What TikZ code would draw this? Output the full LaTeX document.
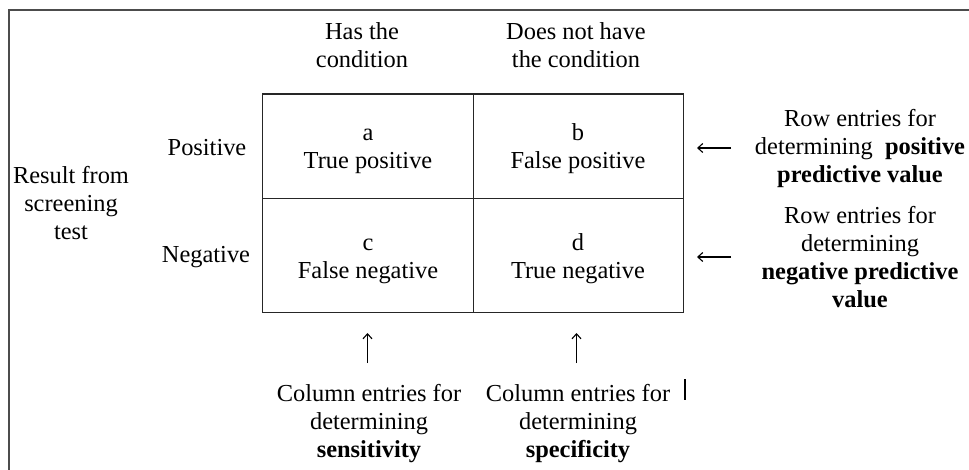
\documentclass[tikz,border=0pt]{standalone}
\usepackage{fontspec}
\setmainfont{Liberation Serif}
\usetikzlibrary{arrows.meta}
\begin{document}
\begin{tikzpicture}[x=1pt,y=-1pt,
  lbl/.style={align=center,inner sep=0pt,font=\fontsize{24.4}{28}\selectfont},
  celltext/.style={lbl},
  cell/.style={draw=black!85,line width=1.3pt,minimum width=210.5pt,inner sep=0pt},
  frameline/.style={line width=1.8pt,draw=black!70},
  ptr/.style={line width=1.1pt,-{Straight Barb[length=5pt,width=9pt]}}]
\useasboundingbox (0,0) rectangle (969,470);
% outer frame (top and left only)
\coordinate (ftr) at (969,10);
\coordinate (ftl) at (9,10);
\coordinate (fbl) at (9,470);
\draw[frameline] (ftr) -- (ftl) -- (fbl);
% headers
\node[lbl] (h1) at (362,45) {Has the\\condition};
\node[lbl] (h2) at (576,45) {Does not have\\the condition};
\node[lbl] (pos) at (207,148) {Positive};
\node[lbl] (neg) at (206,257) {Negative};
\node[lbl] (res) at (71,203) {Result from\\screening\\test};
% cells
\node[cell,minimum height=104.3pt] (a) at (368,146.2) {};
\node[cell,minimum height=104.3pt] (b) at (578.5,146.2) {};
\node[cell,minimum height=114pt] (c) at (368,255.3) {};
\node[cell,minimum height=114pt] (d) at (578.5,255.3) {};
\node[celltext] (ta) at (368,149) {\strut a\\True positive\strut};
\node[celltext] (tb) at (578,149) {\strut b\\False positive\strut};
\node[celltext] (tc) at (368,259) {\strut c\\False negative\strut};
\node[celltext] (td) at (578,259) {\strut d\\True negative\strut};
% right labels
\node[lbl] (ppv) at (860,149) {Row entries for\\determining \ \textbf{positive}\\\textbf{predictive value}};
\node[lbl] (npv) at (860,257) {Row entries for\\determining\\\textbf{negative predictive}\\\textbf{value}};
% bottom labels
\node[lbl] (sens) at (369,424) {Column entries for\\determining\\\textbf{sensitivity}};
\node[lbl] (spec) at (578,424) {Column entries for\\determining\\\textbf{specificity}};
% arrows
\coordinate (r1s) at (731,148);
\coordinate (r1e) at (697,148);
\coordinate (r2s) at (731,257);
\coordinate (r2e) at (697,257);
\coordinate (u1s) at (367.5,363);
\coordinate (u1e) at (367.5,333);
\coordinate (u2s) at (576.5,363);
\coordinate (u2e) at (576.5,333);
\draw[ptr] (r1s) -- (r1e);
\draw[ptr] (r2s) -- (r2e);
\draw[ptr] (u1s) -- (u1e);
\draw[ptr] (u2s) -- (u2e);
% stray bar
\coordinate (bt) at (685,379);
\coordinate (bb) at (685,400);
\draw[line width=1.1pt] (bt) -- (bb);
\end{tikzpicture}
\end{document}
